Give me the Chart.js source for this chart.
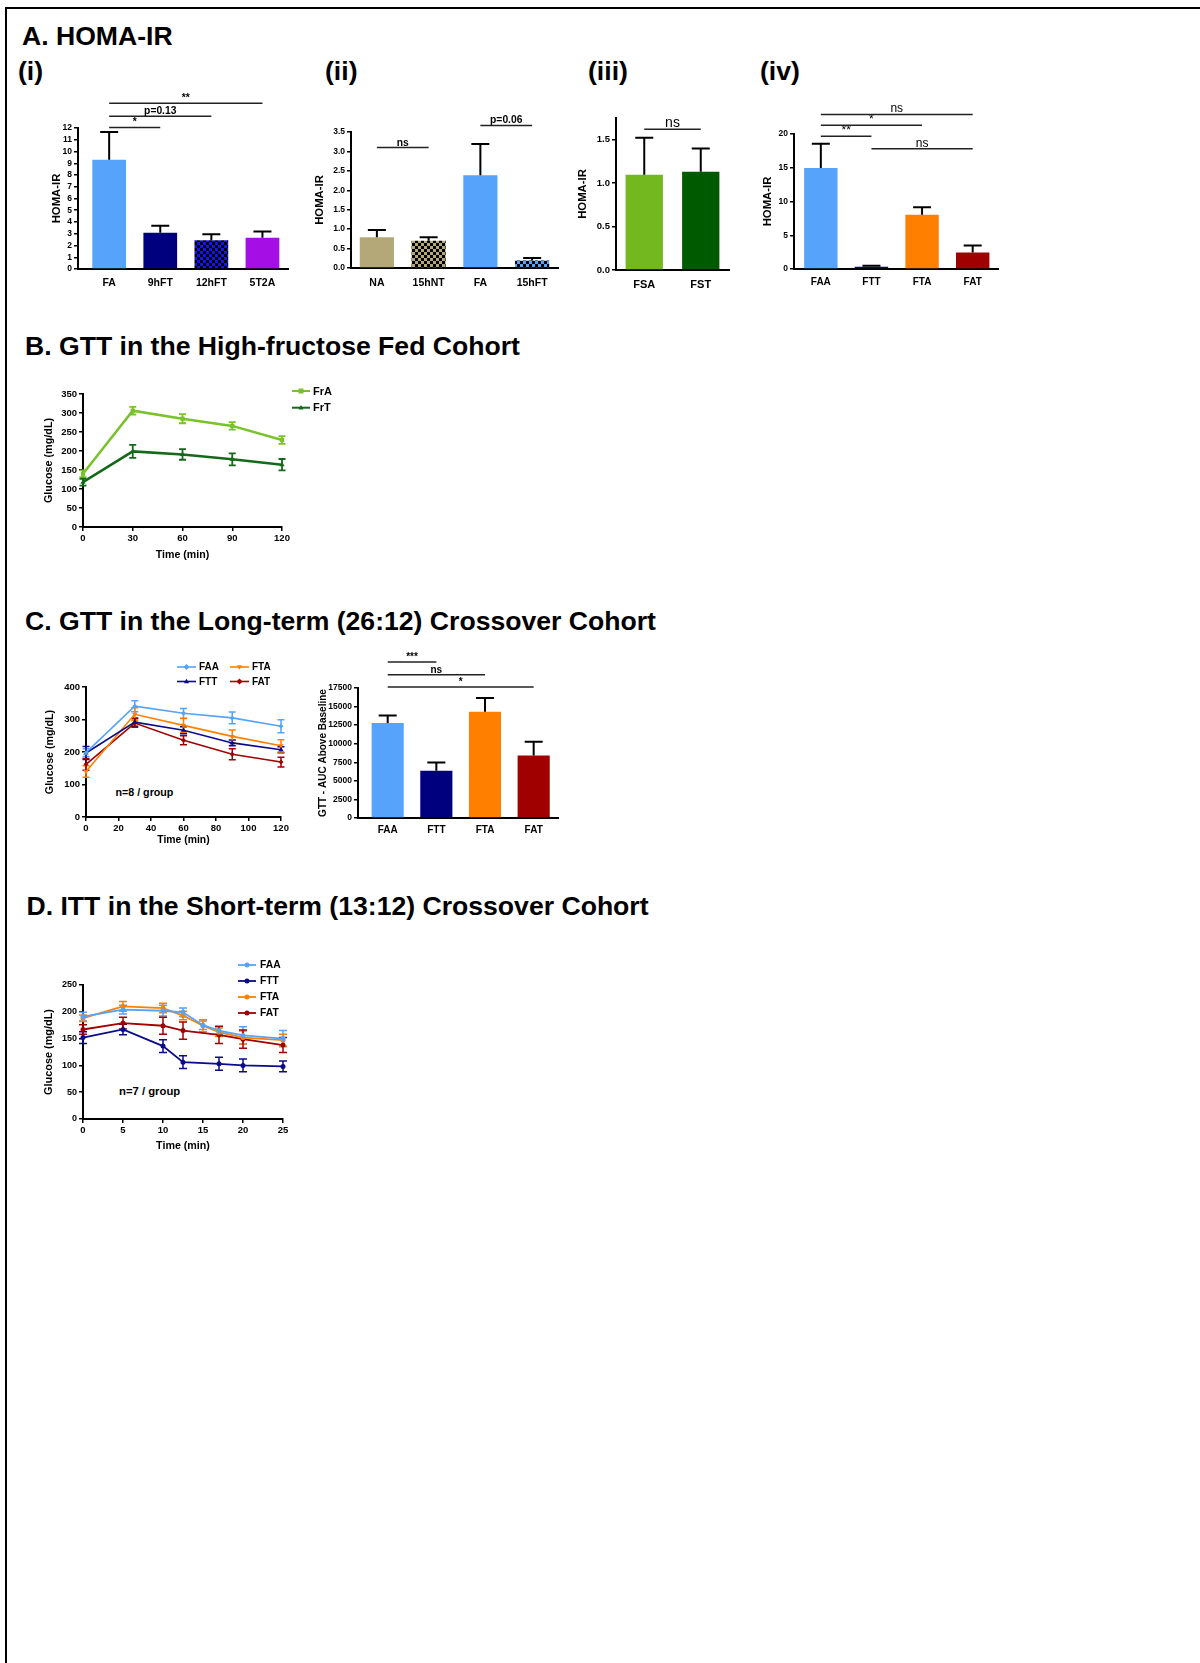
<!DOCTYPE html>
<html>
<head>
<meta charset="utf-8">
<script src="https://cdn.jsdelivr.net/npm/chart.js@4.4.1/dist/chart.umd.min.js"></script>
<style>
  html, body { margin: 0; padding: 0; background: #fff; }
  body { width: 1200px; height: 1663px; position: relative; overflow: hidden; font-family: "Liberation Sans", Arial, sans-serif; }
  #frame { position: absolute; left: 5px; top: 7px; right: 0; bottom: 0; border-top: 2px solid #000; border-left: 2px solid #000; }
  .t { position: absolute; font-weight: bold; white-space: nowrap; line-height: 1; color: #000; }
  canvas { position: absolute; }
</style>
</head>
<body>
<div id="frame"></div>
<div class="t" style="left:22px;top:22.7px;font-size:26.6px">A. HOMA-IR</div>
<div class="t" style="left:18px;top:58px;font-size:26.6px">(i)</div>
<div class="t" style="left:325px;top:58px;font-size:26.6px">(ii)</div>
<div class="t" style="left:588px;top:58px;font-size:26.6px">(iii)</div>
<div class="t" style="left:760px;top:58px;font-size:26.6px">(iv)</div>
<div class="t" style="left:25px;top:333.2px;font-size:26.6px">B. GTT in the High-fructose Fed Cohort</div>
<div class="t" style="left:25px;top:607.5px;font-size:26.6px">C. GTT in the Long-term (26:12) Crossover Cohort</div>
<div class="t" style="left:26.5px;top:893.2px;font-size:26.6px">D. ITT in the Short-term (13:12) Crossover Cohort</div>
<div class="t" style="left:115.5px;top:786.5px;font-size:10.7px">n=8 / group</div>
<div class="t" style="left:119px;top:1085.5px;font-size:11.3px">n=7 / group</div>

<canvas id="a1"></canvas>
<canvas id="a2"></canvas>
<canvas id="a3"></canvas>
<canvas id="a4"></canvas>
<canvas id="b1"></canvas>
<canvas id="c1"></canvas>
<canvas id="c2"></canvas>
<canvas id="d1"></canvas>

<script>
// ---- data ----
const catsA1 = ['FA', '9hFT', '12hFT', '5T2A'];
const homaA1 = [9.3, 3.08, 2.45, 2.65];
const semA1 = [2.35, 0.6, 0.5, 0.55];
const sigA1 = [[0, 1, 12.05, '*'], [0, 2, 13, 'p=0.13'], [0, 3, 14.1, '**']];

const catsA2 = ['NA', '15hNT', 'FA', '15hFT'];
const homaA2 = [0.79, 0.7, 2.39, 0.19];
const semA2 = [0.19, 0.09, 0.8, 0.07];
const sigA2 = [[0, 1, 3.1, 'ns'], [2, 3, 3.67, 'p=0.06']];

const catsA3 = ['FSA', 'FST'];
const homaA3 = [1.096, 1.131];
const semA3 = [0.427, 0.269];
const sigA3 = [[0, 1, 1.62, 'ns']];

const catsA4 = ['FAA', 'FTT', 'FTA', 'FAT'];
const homaA4 = [14.95, 0.35, 8.02, 2.43];
const semA4 = [3.6, 0.15, 1.14, 1.04];
const sigA4 = [[0, 1, 19.65, '**'], [0, 2, 21.3, '*'], [0, 3, 22.9, 'ns'], [1, 3, 17.8, 'ns']];

const timeB = [0, 30, 60, 90, 120];
const gttFrA = [140, 306, 285, 266, 229];
const semFrA = [9, 10, 12, 10, 10];
const gttFrT = [118, 199, 191, 178, 164];
const semFrT = [9, 17, 14, 16, 15];

const timeC = [0, 30, 60, 90, 120];
const gttFAA = [198, 341, 319, 305, 279];
const semFAA = [12, 17, 15, 18, 20];
const gttFTT = [197, 292, 267, 228, 207];
const semFTT = [20, 13, 11, 9, 9];
const gttFTA = [140, 316, 282, 248, 219];
const semFTA = [18, 20, 21, 20, 19];
const gttFAT = [162, 289, 236, 193, 169];
const semFAT = [18, 13, 14, 17, 15];

const catsAUC = ['FAA', 'FTT', 'FTA', 'FAT'];
const aucVals = [12800, 6350, 14300, 8400];
const aucSem = [1000, 1130, 1850, 1880];
const sigAUC = [[0, 1, 21000, '***'], [0, 2, 19300, 'ns'], [0, 3, 17650, '*']];

const timeD = [0, 5, 10, 12.5, 15, 17, 20, 25];
const ittFAA = [191, 204, 202, 199, 175, 165, 156, 150];
const semIttFAA = [8, 8, 10, 8, 8, 7, 16, 15];
const ittFTT = [152, 167, 136, 106, null, 103, 100, 98];
const semIttFTT = [11, 10, 12, 12, null, 12, 12, 10];
const ittFTA = [188, 210, 207, 193, 174, 162, 152, 147];
const semIttFTA = [6, 9, 9, 8, 11, 8, 12, 11];
const ittFAT = [167, 179, 174, 165, null, 157, 149, 138];
const semIttFAT = [9, 11, 16, 16, null, 16, 17, 14];

// ---- styling ----
const FONT = '"Liberation Sans", Arial, Helvetica, sans-serif';
const C_LBLUE = '#56a3fc', C_NAVY = '#00007f', C_ORANGE = '#ff8000', C_RED = '#a00000';

Chart.defaults.font.family = FONT;
Chart.defaults.color = '#000';
Chart.defaults.animation = false;
Chart.defaults.events = [];
Chart.defaults.plugins.legend.display = false;
Chart.defaults.plugins.tooltip.enabled = false;

function checker(c1, c2, s) {
  const p = document.createElement('canvas');
  p.width = p.height = 2 * s;
  const g = p.getContext('2d');
  g.fillStyle = c1; g.fillRect(0, 0, 2 * s, 2 * s);
  g.fillStyle = c2; g.fillRect(0, 0, s, s); g.fillRect(s, s, s, s);
  return g.createPattern(p, 'repeat');
}

// area = chart area in page px [l, t, r, b]; pad = [yAxisW, top, right, xAxisH]
function place(id, area, pad) {
  const c = document.getElementById(id);
  const left = area[0] - pad[0], top = area[1] - pad[1];
  c.width = area[2] - area[0] + pad[0] + pad[2];
  c.height = area[3] - area[1] + pad[1] + pad[3];
  c.style.left = left + 'px';
  c.style.top = top + 'px';
  return { c, left, top, pad };
}

function yAxis(o) {
  return {
    type: 'linear', min: o.min, max: o.max,
    border: { display: true, color: '#000', width: 2 },
    grid: { display: true, drawOnChartArea: false, drawTicks: true, tickLength: 4, lineWidth: 1.5, tickWidth: 1.5, tickColor: '#000' },
    ticks: { stepSize: o.step, maxTicksLimit: 100, includeBounds: false, autoSkip: false, padding: 2, color: '#000',
      font: { family: FONT, weight: 'bold', size: o.fs }, callback: o.fmt || (v => String(v)) },
    title: { display: true, text: o.title, color: '#000', padding: 0, font: { family: FONT, weight: 'bold', size: o.tfs } },
    afterFit: s => { s.width = o.w; }
  };
}

function xNum(o) {
  return {
    type: 'linear', min: o.min, max: o.max,
    border: { display: true, color: '#000', width: 2 },
    grid: { display: true, drawOnChartArea: false, drawTicks: true, tickLength: 4, lineWidth: 1.5, tickWidth: 1.5, tickColor: '#000' },
    ticks: { stepSize: o.step, maxTicksLimit: 100, autoSkip: false, maxRotation: 0, padding: 2, color: '#000',
      font: { family: FONT, weight: 'bold', size: o.fs }, callback: v => String(v) },
    title: { display: true, text: 'Time (min)', color: '#000', padding: 0, font: { family: FONT, weight: 'bold', size: o.tfs } },
    afterFit: s => { s.height = o.h; }
  };
}

function xCat(cats, o) {
  return {
    type: 'linear', min: o.min, max: o.max, offset: false,
    border: { display: true, color: '#000', width: 2 },
    grid: { display: false, drawTicks: false },
    afterBuildTicks: s => { s.ticks = cats.map((c, i) => ({ value: i })); },
    ticks: { autoSkip: false, maxRotation: 0, padding: o.pad, color: '#000',
      font: { family: FONT, weight: 'bold', size: o.fs }, callback: v => cats[v] },
    afterFit: s => { s.height = o.h; }
  };
}

function marker(ctx, style, x, y, r, rot) {
  ctx.beginPath();
  if (style === 'rect') {
    ctx.rect(x - r, y - r, 2 * r, 2 * r);
  } else if (style === 'circle') {
    ctx.arc(x, y, r, 0, Math.PI * 2);
  } else if (style === 'rectRot') {
    ctx.moveTo(x, y - r * 1.2); ctx.lineTo(x + r * 1.2, y); ctx.lineTo(x, y + r * 1.2); ctx.lineTo(x - r * 1.2, y);
  } else if (style === 'triangle') {
    const s = rot ? -1 : 1;
    ctx.moveTo(x, y - s * r * 1.1); ctx.lineTo(x + r, y + s * r * 0.7); ctx.lineTo(x - r, y + s * r * 0.7);
  }
  ctx.closePath();
  ctx.fill();
}

// error bars, significance brackets and GraphPad-like legend
const gp = {
  id: 'gp',
  beforeDatasetsDraw(chart, args, o) {
    if (!o.bar) drawErr(chart, o);
  },
  afterDatasetsDraw(chart, args, o) {
    if (o.bar) drawErr(chart, o);
  },
  afterDraw(chart, args, o) {
    const ctx = chart.ctx, xs = chart.scales.x, ys = chart.scales.y;
    ctx.save();
    (o.sig || []).forEach(([a, b, v, t]) => {
      const x1 = xs.getPixelForValue(a), x2 = xs.getPixelForValue(b), y = ys.getPixelForValue(v);
      ctx.strokeStyle = '#222'; ctx.lineWidth = 1.5;
      ctx.beginPath(); ctx.moveTo(x1, y); ctx.lineTo(x2, y); ctx.stroke();
      ctx.fillStyle = '#000'; ctx.font = o.sigFont; ctx.textAlign = 'center'; ctx.textBaseline = 'alphabetic';
      ctx.fillText(t, (x1 + x2) / 2, y - 2);
    });
    const L = o.legend;
    if (L) {
      chart.data.datasets.forEach((ds, i) => {
        const col = Math.floor(i / L.rows), row = i % L.rows;
        const x = L.x - o.org.left + col * L.colW, y = L.y - o.org.top + row * L.rowH;
        ctx.strokeStyle = ds.borderColor; ctx.fillStyle = ds.borderColor; ctx.lineWidth = L.lw;
        ctx.beginPath(); ctx.moveTo(x, y); ctx.lineTo(x + L.len, y); ctx.stroke();
        marker(ctx, ds.pointStyle, x + L.len / 2, y, L.r, ds.pointRotation);
        ctx.fillStyle = '#000'; ctx.font = L.font; ctx.textAlign = 'left'; ctx.textBaseline = 'middle';
        ctx.fillText(ds.label, x + L.len + L.gap, y + 0.5);
      });
    }
    ctx.restore();
  }
};

function drawErr(chart, o) {
  const ctx = chart.ctx, ys = chart.scales.y;
  ctx.save();
  chart.data.datasets.forEach((ds, di) => {
    if (!ds.errs) return;
    const meta = chart.getDatasetMeta(di);
    ctx.strokeStyle = o.bar ? '#000' : ds.borderColor;
    ctx.lineWidth = o.errW;
    const cap = o.cap / 2;
    meta.data.forEach((el, i) => {
      const v = ds.data[i].y, e = ds.errs[i];
      if (v == null || e == null) return;
      const x = el.x;
      const top = ys.getPixelForValue(v + e);
      const bot = o.bar ? el.y : ys.getPixelForValue(v - e);
      ctx.beginPath();
      ctx.moveTo(x, bot); ctx.lineTo(x, top);
      ctx.moveTo(x - cap, top); ctx.lineTo(x + cap, top);
      if (!o.bar) { ctx.moveTo(x - cap, bot); ctx.lineTo(x + cap, bot); }
      ctx.stroke();
    });
  });
  ctx.restore();
}

function barChart(p, cats, vals, sems, colors, sig, y, x, sigFont) {
  return new Chart(p.c, {
    type: 'bar',
    data: {
      datasets: [{
        data: vals.map((v, i) => ({ x: i, y: v })),
        errs: sems,
        backgroundColor: colors,
        borderWidth: 0,
        barPercentage: 0.66,
        categoryPercentage: 1
      }]
    },
    options: {
      responsive: false,
      devicePixelRatio: 1,
      layout: { padding: { left: 0, top: p.pad[1], right: p.pad[2], bottom: 0 } },
      scales: { x: xCat(cats, x), y: yAxis(y) },
      plugins: { gp: { bar: true, errW: 2, cap: 18, sig, sigFont, org: p } }
    },
    plugins: [gp]
  });
}

function lineDs(label, xs, ys, errs, color, style, r, bw, rot) {
  return {
    label, data: xs.map((x, i) => ({ x, y: ys[i] })), errs,
    borderColor: color, backgroundColor: color, pointBackgroundColor: color, pointBorderColor: color,
    pointStyle: style, pointRadius: r, pointBorderWidth: 0, pointRotation: rot || 0,
    borderWidth: bw, tension: 0, clip: false, spanGaps: true
  };
}

function lineChart(p, datasets, y, x, legend, errW, cap) {
  return new Chart(p.c, {
    type: 'line',
    data: { datasets },
    options: {
      responsive: false,
      devicePixelRatio: 1,
      layout: { padding: { left: 0, top: p.pad[1], right: p.pad[2], bottom: 0 } },
      scales: { x: xNum(x), y: yAxis(y) },
      plugins: { gp: { bar: false, errW, cap, legend, org: p } }
    },
    plugins: [gp]
  });
}

// ---- A. HOMA-IR ----
barChart(place('a1', [78, 128, 288, 269], [28, 42, 4, 26]), catsA1, homaA1, semA1,
  [C_LBLUE, C_NAVY, checker('#1414f0', '#000', 3), '#a60ee6'], sigA1,
  { min: 0, max: 12, step: 1, fs: 8.5, tfs: 11.3, w: 28, title: 'HOMA-IR' },
  { min: -0.61, max: 3.5, fs: 10.5, pad: 8, h: 26 }, 'bold 10.3px ' + FONT);

barChart(place('a2', [351, 132, 558, 268], [38, 30, 4, 26]), catsA2, homaA2, semA2,
  ['#b5a878', checker('#b5a878', '#000', 3), C_LBLUE, checker(C_LBLUE, '#000', 3)], sigA2,
  { min: 0, max: 3.5, step: 0.5, fs: 8.5, tfs: 11.3, w: 38, title: 'HOMA-IR', fmt: v => v.toFixed(1) },
  { min: -0.5, max: 3.5, fs: 10.5, pad: 8.5, h: 26 }, 'bold 10.3px ' + FONT);

barChart(place('a3', [616, 118, 729, 270], [40, 22, 4, 26]), catsA3, homaA3, semA3,
  ['#72b81e', '#005a00'], sigA3,
  { min: 0, max: 1.75, step: 0.5, fs: 9.5, tfs: 11.3, w: 40, title: 'HOMA-IR', fmt: v => v.toFixed(1) },
  { min: -0.5, max: 1.5, fs: 11, pad: 8, h: 26 }, '14px ' + FONT);

barChart(place('a4', [794, 134, 998, 269], [33, 38, 4, 26]), catsA4, homaA4, semA4,
  [C_LBLUE, C_NAVY, C_ORANGE, C_RED], sigA4,
  { min: 0, max: 20, step: 5, fs: 8.5, tfs: 11.3, w: 33, title: 'HOMA-IR' },
  { min: -0.53, max: 3.5, fs: 10, pad: 7, h: 26 }, '12px ' + FONT);

// ---- B. GTT high-fructose ----
lineChart(place('b1', [83, 394, 282, 527], [40, 18, 60, 34]), [
  lineDs('FrA', timeB, gttFrA, semFrA, '#78c32b', 'rect', 3, 2.5),
  lineDs('FrT', timeB, gttFrT, semFrT, '#15691a', 'triangle', 3, 2.5)
], { min: 0, max: 350, step: 50, fs: 9.5, tfs: 10.8, w: 40, title: 'Glucose (mg/dL)' },
  { min: 0, max: 120, step: 30, fs: 9.5, tfs: 10.6, h: 34 },
  { x: 292, y: 391, rows: 2, colW: 0, rowH: 16.7, len: 18, gap: 3, r: 2.5, lw: 2, font: 'bold 11px ' + FONT }, 1.8, 7);

// ---- C. GTT long-term crossover ----
lineChart(place('c1', [86, 687, 281, 817], [42, 36, 14, 29]), [
  lineDs('FAA', timeC, gttFAA, semFAA, C_LBLUE, 'rectRot', 2.5, 1.6),
  lineDs('FTT', timeC, gttFTT, semFTT, '#0a0a8a', 'triangle', 3, 1.6),
  lineDs('FTA', timeC, gttFTA, semFTA, C_ORANGE, 'triangle', 3, 1.6, 180),
  lineDs('FAT', timeC, gttFAT, semFAT, C_RED, 'rectRot', 2.5, 1.6)
], { min: 0, max: 400, step: 100, fs: 9.5, tfs: 10.7, w: 42, title: 'Glucose (mg/dL)' },
  { min: 0, max: 120, step: 20, fs: 9.5, tfs: 10.4, h: 29 },
  { x: 177, y: 667, rows: 2, colW: 53, rowH: 14.5, len: 19, gap: 3, r: 2.5, lw: 1.6, font: 'bold 10px ' + FONT }, 1.5, 7);

barChart(place('c2', [358, 688, 558, 818], [41, 40, 4, 26]), catsAUC, aucVals, aucSem,
  [C_LBLUE, C_NAVY, C_ORANGE, C_RED], sigAUC,
  { min: 0, max: 17500, step: 2500, fs: 8.5, tfs: 10, w: 41, title: 'GTT - AUC Above Baseline' },
  { min: -0.61, max: 3.5, fs: 10, pad: 6, h: 26 }, 'bold 10px ' + FONT);

// ---- D. ITT short-term crossover ----
lineChart(place('d1', [83, 985, 283, 1119], [41, 32, 14, 33]), [
  lineDs('FAA', timeD, ittFAA, semIttFAA, C_LBLUE, 'circle', 2.5, 1.8),
  lineDs('FTT', timeD, ittFTT, semIttFTT, '#0a0a8a', 'circle', 2.5, 1.8),
  lineDs('FTA', timeD, ittFTA, semIttFTA, C_ORANGE, 'circle', 2.5, 1.8),
  lineDs('FAT', timeD, ittFAT, semIttFAT, C_RED, 'circle', 2.5, 1.8)
], { min: 0, max: 250, step: 50, fs: 9, tfs: 10.9, w: 41, title: 'Glucose (mg/dL)' },
  { min: 0, max: 25, step: 5, fs: 9.5, tfs: 10.7, h: 33 },
  { x: 238, y: 965, rows: 4, colW: 0, rowH: 16, len: 18, gap: 4, r: 2.5, lw: 1.8, font: 'bold 10.3px ' + FONT }, 1.5, 8);
</script>
</body>
</html>
